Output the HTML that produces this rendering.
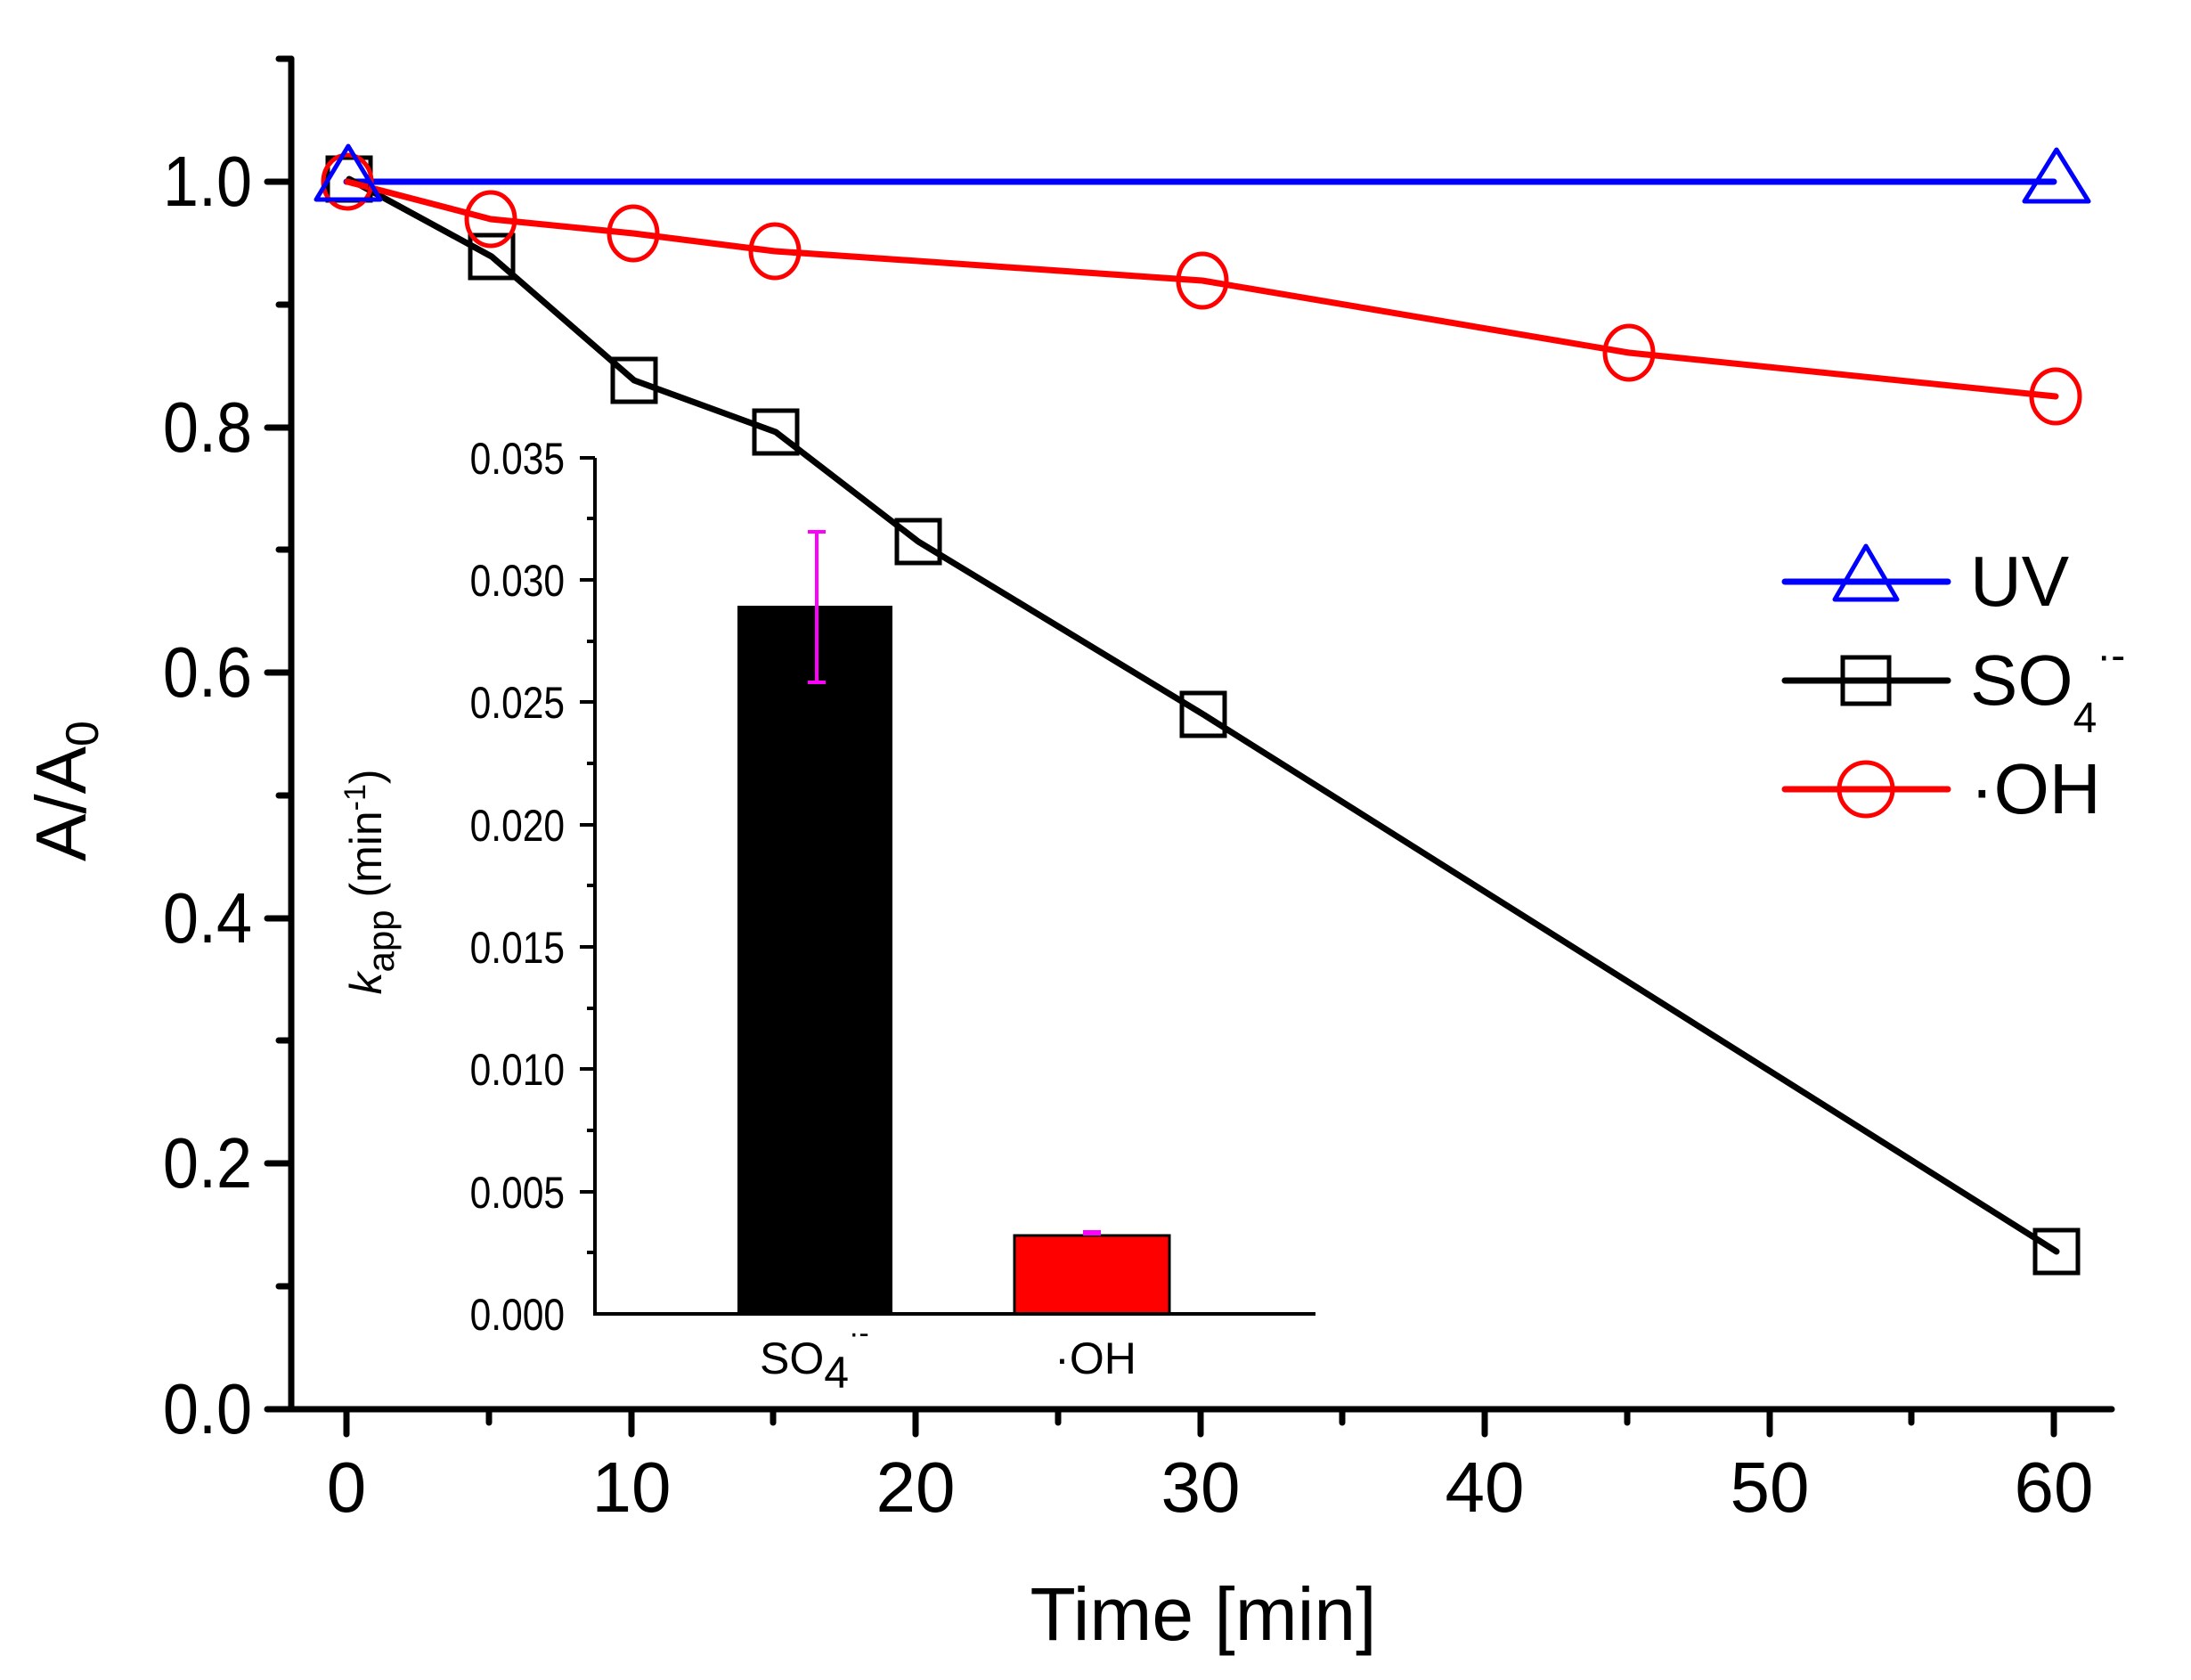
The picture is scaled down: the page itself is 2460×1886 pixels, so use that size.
<!DOCTYPE html>
<html><head><meta charset="utf-8"><style>
html,body{margin:0;padding:0;background:#fff;}
svg{display:block;}
text{font-family:"Liberation Sans",Arial,sans-serif;}
</style></head><body>
<svg width="2460" height="1886" viewBox="0 0 2460 1886" xmlns="http://www.w3.org/2000/svg">
<rect width="2460" height="1886" fill="#fff"/>
<g stroke="#000" stroke-width="7" stroke-linecap="round" fill="none">
<line x1="327" y1="66" x2="327" y2="1582"/>
<line x1="327" y1="1582" x2="2371" y2="1582"/>
<line x1="300" y1="1582" x2="327" y2="1582"/>
<line x1="300" y1="1306" x2="327" y2="1306"/>
<line x1="300" y1="1031" x2="327" y2="1031"/>
<line x1="300" y1="755" x2="327" y2="755"/>
<line x1="300" y1="480" x2="327" y2="480"/>
<line x1="300" y1="204" x2="327" y2="204"/>
<line x1="313" y1="1444" x2="327" y2="1444"/>
<line x1="313" y1="1168" x2="327" y2="1168"/>
<line x1="313" y1="893" x2="327" y2="893"/>
<line x1="313" y1="617" x2="327" y2="617"/>
<line x1="313" y1="342" x2="327" y2="342"/>
<line x1="313" y1="66" x2="327" y2="66"/>
<line x1="389" y1="1582" x2="389" y2="1610"/>
<line x1="709" y1="1582" x2="709" y2="1610"/>
<line x1="1028" y1="1582" x2="1028" y2="1610"/>
<line x1="1348" y1="1582" x2="1348" y2="1610"/>
<line x1="1667" y1="1582" x2="1667" y2="1610"/>
<line x1="1987" y1="1582" x2="1987" y2="1610"/>
<line x1="2306" y1="1582" x2="2306" y2="1610"/>
<line x1="549" y1="1582" x2="549" y2="1597"/>
<line x1="868" y1="1582" x2="868" y2="1597"/>
<line x1="1188" y1="1582" x2="1188" y2="1597"/>
<line x1="1507" y1="1582" x2="1507" y2="1597"/>
<line x1="1827" y1="1582" x2="1827" y2="1597"/>
<line x1="2146" y1="1582" x2="2146" y2="1597"/>
</g>
<g font-size="80" text-anchor="end" fill="#000">
<text x="283" y="231" transform="translate(283 0) scale(0.9 1) translate(-283 0)">1.0</text>
<text x="283" y="507" transform="translate(283 0) scale(0.9 1) translate(-283 0)">0.8</text>
<text x="283" y="782" transform="translate(283 0) scale(0.9 1) translate(-283 0)">0.6</text>
<text x="283" y="1058" transform="translate(283 0) scale(0.9 1) translate(-283 0)">0.4</text>
<text x="283" y="1333" transform="translate(283 0) scale(0.9 1) translate(-283 0)">0.2</text>
<text x="283" y="1609" transform="translate(283 0) scale(0.9 1) translate(-283 0)">0.0</text>
</g>
<g font-size="80" text-anchor="middle" fill="#000">
<text x="389" y="1697">0</text>
<text x="709" y="1697">10</text>
<text x="1028" y="1697">20</text>
<text x="1348" y="1697">30</text>
<text x="1667" y="1697">40</text>
<text x="1987" y="1697">50</text>
<text x="2306" y="1697">60</text>
</g>
<text x="1351" y="1841" font-size="84" text-anchor="middle">Time [min]</text>
<g transform="translate(96 888) rotate(-90)">
<text x="0" y="0" font-size="80" text-anchor="middle">A/A<tspan font-size="52" dy="14">0</tspan></text>
</g>

<!-- inset -->
<rect x="828" y="680" width="174" height="795" fill="#000"/>
<rect x="1139" y="1387" width="174" height="88" fill="#f00" stroke="#000" stroke-width="3"/>
<g stroke="#000" stroke-width="4" fill="none">
<line x1="668" y1="514" x2="668" y2="1477"/>
<line x1="666" y1="1475" x2="1477" y2="1475"/>
</g>
<g stroke="#000" stroke-width="4">
<line x1="651" y1="514" x2="668" y2="514"/>
<line x1="651" y1="651" x2="668" y2="651"/>
<line x1="651" y1="788" x2="668" y2="788"/>
<line x1="651" y1="926" x2="668" y2="926"/>
<line x1="651" y1="1063" x2="668" y2="1063"/>
<line x1="651" y1="1200" x2="668" y2="1200"/>
<line x1="651" y1="1338" x2="668" y2="1338"/>
<line x1="659" y1="582" x2="668" y2="582"/>
<line x1="659" y1="720" x2="668" y2="720"/>
<line x1="659" y1="857" x2="668" y2="857"/>
<line x1="659" y1="994" x2="668" y2="994"/>
<line x1="659" y1="1132" x2="668" y2="1132"/>
<line x1="659" y1="1269" x2="668" y2="1269"/>
<line x1="659" y1="1406" x2="668" y2="1406"/>
</g>
<g stroke="#f0f" stroke-width="4">
<line x1="917" y1="597" x2="917" y2="766"/>
<line x1="907" y1="597" x2="927" y2="597"/>
<line x1="907" y1="766" x2="927" y2="766"/>
<line x1="1216" y1="1384" x2="1236" y2="1384" stroke-width="6"/>
</g>
<g font-size="50" text-anchor="end" fill="#000">
<text x="634" y="532" transform="translate(634 0) scale(0.85 1) translate(-634 0)">0.035</text>
<text x="634" y="669" transform="translate(634 0) scale(0.85 1) translate(-634 0)">0.030</text>
<text x="634" y="806" transform="translate(634 0) scale(0.85 1) translate(-634 0)">0.025</text>
<text x="634" y="944" transform="translate(634 0) scale(0.85 1) translate(-634 0)">0.020</text>
<text x="634" y="1081" transform="translate(634 0) scale(0.85 1) translate(-634 0)">0.015</text>
<text x="634" y="1218" transform="translate(634 0) scale(0.85 1) translate(-634 0)">0.010</text>
<text x="634" y="1356" transform="translate(634 0) scale(0.85 1) translate(-634 0)">0.005</text>
<text x="634" y="1493" transform="translate(634 0) scale(0.85 1) translate(-634 0)">0.000</text>
</g>
<text x="853" y="1542" font-size="50">SO<tspan dy="16">4</tspan><tspan font-size="34" dy="-50">·-</tspan></text>
<text x="1230" y="1542" font-size="50" text-anchor="middle">·OH</text>
<g transform="translate(428 990) rotate(-90)">
<text x="0" y="0" font-size="50" text-anchor="middle"><tspan font-style="italic">k</tspan><tspan font-size="42" dy="14">app</tspan><tspan dy="-14"> (min</tspan><tspan font-size="34" dy="-18">-1</tspan><tspan dy="18">)</tspan></text>
</g>

<!-- series -->
<g fill="none" stroke-width="7" stroke-linejoin="round" stroke-linecap="round">
<polyline stroke="#00f" points="389,204 2306,204"/>
<polyline stroke="#000" points="392,201 552,288 712,427 871,485 1031,608 1351,802 2309,1405"/>
<polyline stroke="#f00" points="390,204 551,246 711,262 870,282 1350,315 1829,396 2308,445"/>
</g>
<g fill="none" stroke-width="5">
<g stroke="#000">
<rect x="368" y="177" width="48" height="48"/>
<rect x="528" y="264" width="48" height="48"/>
<rect x="688" y="403" width="48" height="48"/>
<rect x="847" y="461" width="48" height="48"/>
<rect x="1007" y="584" width="48" height="48"/>
<rect x="1327" y="778" width="48" height="48"/>
<rect x="2285" y="1381" width="48" height="48"/>
</g>
<g stroke="#f00">
<ellipse cx="390" cy="204" rx="27" ry="30"/>
<ellipse cx="551" cy="246" rx="27" ry="30"/>
<ellipse cx="711" cy="262" rx="27" ry="30"/>
<ellipse cx="870" cy="282" rx="27" ry="30"/>
<ellipse cx="1350" cy="315" rx="27" ry="30"/>
<ellipse cx="1829" cy="396" rx="27" ry="30"/>
<ellipse cx="2308" cy="445" rx="27" ry="30"/>
</g>
<g stroke="#00f" stroke-linejoin="round">
<polygon points="391,164 427,224 355,224"/>
<polygon points="2309,168 2345,226 2273,226"/>
</g>
</g>

<!-- legend -->
<g stroke-width="7" stroke-linecap="round">
<line x1="2004" y1="653" x2="2187" y2="653" stroke="#00f"/>
<line x1="2004" y1="764" x2="2187" y2="764" stroke="#000"/>
<line x1="2004" y1="886" x2="2187" y2="886" stroke="#f00"/>
</g>
<g fill="none" stroke-width="5">
<polygon points="2095,613 2130,673 2060,673" stroke="#00f" stroke-linejoin="round"/>
<rect x="2069" y="738" width="52" height="52" stroke="#000"/>
<circle cx="2095" cy="886" r="30" stroke="#f00"/>
</g>
<g font-size="80" fill="#000">
<text x="2212" y="680">UV</text>
<text x="2212" y="791">SO<tspan font-size="48" dy="31">4</tspan><tspan font-size="48" dy="-70">·-</tspan></text>
<text x="2212" y="913">·OH</text>
</g>
</svg>
</body></html>
